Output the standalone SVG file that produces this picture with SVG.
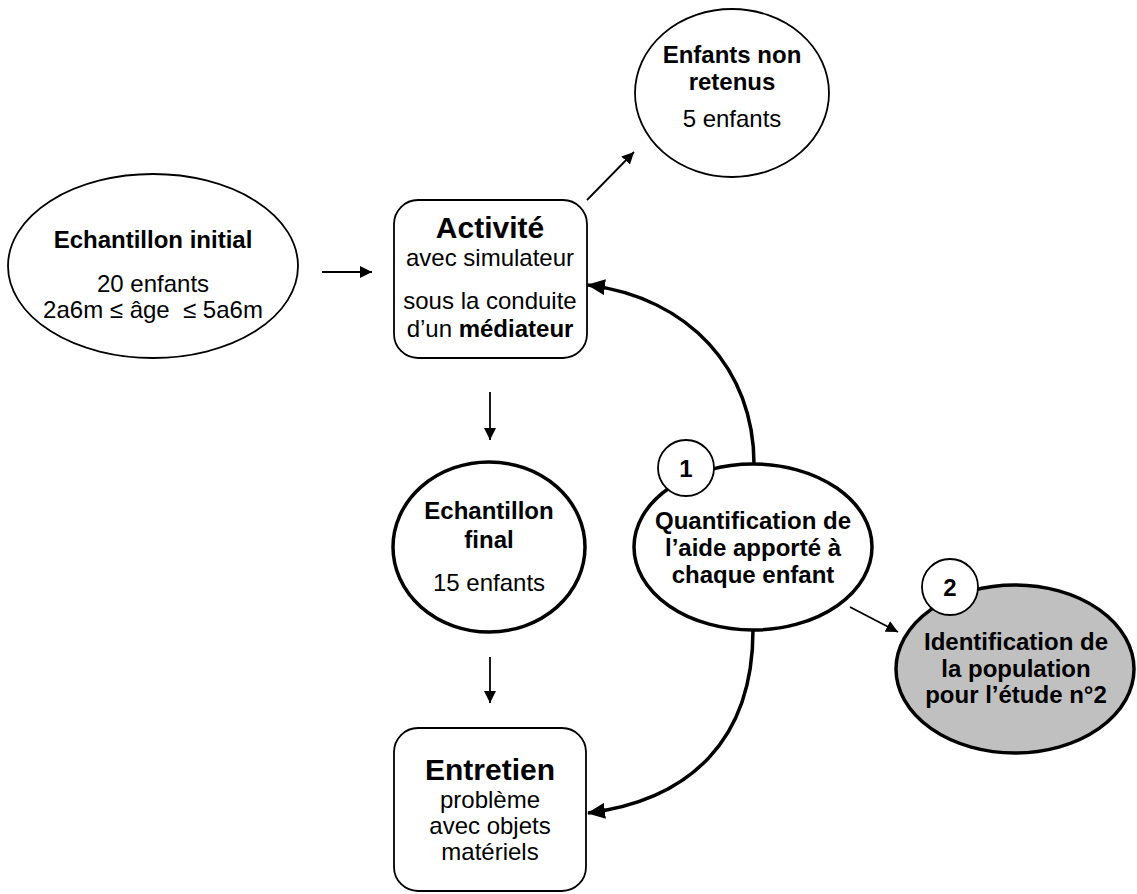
<svg xmlns="http://www.w3.org/2000/svg" width="1137" height="894" viewBox="0 0 1137 894">
<defs>
<marker id="ah" markerWidth="12" markerHeight="12" refX="12" refY="6" orient="auto" markerUnits="userSpaceOnUse" viewBox="0 0 12 12">
<path d="M0,0 L12,6 L0,12 z" fill="#000"/>
</marker>
<marker id="ah2" markerWidth="18" markerHeight="16" refX="17" refY="8" orient="auto" markerUnits="userSpaceOnUse" viewBox="0 0 18 16">
<path d="M0,0 L18,8 L0,16 z" fill="#000"/>
</marker>
</defs>
<style>
text{font-family:"Liberation Sans",Arial,sans-serif;fill:#000;text-anchor:middle}
.b{font-weight:bold;font-size:24px}
.n{font-size:24px}
.big{font-weight:bold;font-size:30px}
.thin{fill:#fff;stroke:#000;stroke-width:1.8}
.thick{fill:#fff;stroke:#000;stroke-width:3.5}
.con{fill:none;stroke:#000;stroke-width:1.8}
.cur{fill:none;stroke:#000;stroke-width:3.5}
</style>
<rect width="1137" height="894" fill="#fff"/>
<g id="connectors">
<line class="con" x1="322" y1="272" x2="372" y2="272" marker-end="url(#ah)"/>
<line class="con" x1="587" y1="200" x2="634" y2="152" marker-end="url(#ah)"/>
<line class="con" x1="490" y1="392" x2="490" y2="440" marker-end="url(#ah)"/>
<line class="con" x1="490" y1="657" x2="490" y2="703" marker-end="url(#ah)"/>
<line class="con" x1="850" y1="607" x2="898" y2="632" marker-end="url(#ah)"/>
<path class="cur" d="M754,464 C754,370 690,298 588,285" marker-end="url(#ah2)"/>
<path class="cur" d="M753,630 C753,740 690,800 588,813" marker-end="url(#ah2)"/>
</g>
<g id="initial">
<ellipse class="thin" cx="153" cy="266" rx="145" ry="92"/>
<text class="b" x="153" y="248">Echantillon initial</text>
<text class="n" x="153" y="292">20 enfants</text>
<text class="n" x="153" y="318" xml:space="preserve">2a6m ≤ âge  ≤ 5a6m</text>
</g>
<g id="activite">
<rect class="thin" x="394" y="200" width="193" height="158" rx="24"/>
<text class="big" x="490" y="238">Activité</text>
<text class="n" x="490" y="266">avec simulateur</text>
<text class="n" x="490" y="309">sous la conduite</text>
<text class="n" x="490" y="337">d’un <tspan font-weight="bold">médiateur</tspan></text>
</g>
<g id="nonretenus">
<ellipse class="thin" cx="732" cy="93" rx="97" ry="84"/>
<text class="b" x="732" y="63">Enfants non</text>
<text class="b" x="732" y="90">retenus</text>
<text class="n" x="732" y="127">5 enfants</text>
</g>
<g id="final">
<ellipse class="thick" cx="489" cy="547" rx="96" ry="85"/>
<text class="b" x="489" y="519">Echantillon</text>
<text class="b" x="489" y="548">final</text>
<text class="n" x="489" y="591">15 enfants</text>
</g>
<g id="entretien">
<rect class="thin" x="394" y="728" width="192" height="163" rx="24"/>
<text class="big" x="490" y="780">Entretien</text>
<text class="n" x="490" y="808">problème</text>
<text class="n" x="490" y="834">avec objets</text>
<text class="n" x="490" y="860">matériels</text>
</g>
<g id="quantification">
<ellipse class="thick" cx="753" cy="547" rx="119" ry="83"/>
<text class="b" x="753" y="529">Quantification de</text>
<text class="b" x="753" y="556">l’aide apporté à</text>
<text class="b" x="753" y="583">chaque enfant</text>
<circle class="thin" cx="686" cy="468" r="28"/>
<text class="b" x="686" y="477" font-size="26">1</text>
</g>
<g id="identification">
<ellipse cx="1015" cy="669" rx="119" ry="84" fill="#c0c0c0" stroke="#000" stroke-width="3.5"/>
<text class="b" x="1016" y="650">Identification de</text>
<text class="b" x="1016" y="677">la population</text>
<text class="b" x="1016" y="703">pour l’étude n°2</text>
<circle class="thin" cx="950" cy="587" r="28"/>
<text class="b" x="950" y="596" font-size="26">2</text>
</g>
</svg>
